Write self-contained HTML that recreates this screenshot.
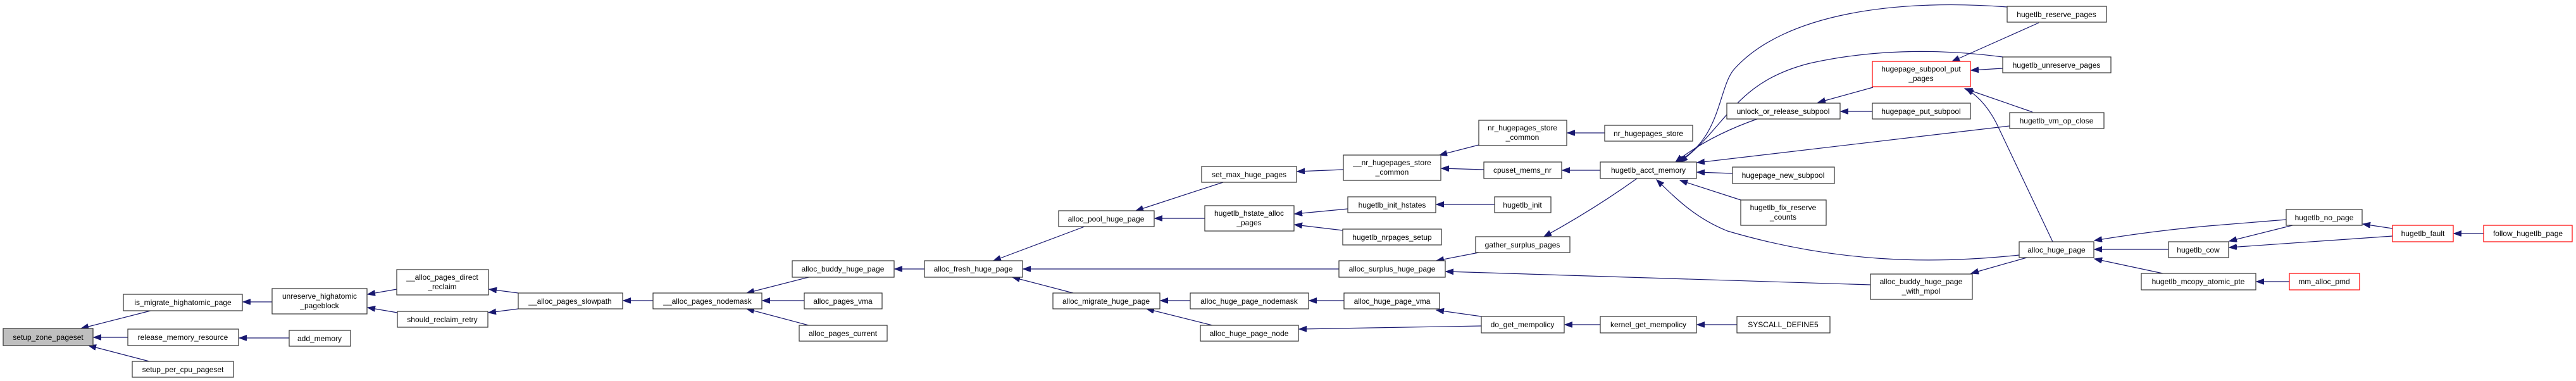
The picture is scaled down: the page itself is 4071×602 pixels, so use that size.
<!DOCTYPE html>
<html><head><meta charset="utf-8"><style>
html,body{margin:0;padding:0;background:#fff;}
svg{display:block;}
text{font-family:"Liberation Sans",Arial,sans-serif;font-size:12px;fill:#000;text-anchor:middle;}
.b{fill:#fff;stroke:#333;stroke-width:1.2;}
.r{fill:#fff;stroke:#f00;stroke-width:1.2;}
.g{fill:#bfbfbf;stroke:#333;stroke-width:1.2;}
.e{fill:none;stroke:#191970;stroke-width:1.2;marker-end:url(#a);}
</style></head><body>
<svg width="4071" height="602" viewBox="0 0 4071 602" xmlns="http://www.w3.org/2000/svg">
<defs><marker id="a" markerUnits="userSpaceOnUse" markerWidth="14" markerHeight="10" refX="12" refY="4.5" orient="auto"><path d="M0,0 L12,4.5 L0,9 z" fill="#191970" stroke="#191970"/></marker></defs>
<!-- edges -->
<path class="e" d="M238,491 L128,519"/>
<path class="e" d="M202,533 L148,533"/>
<path class="e" d="M236,571 L140,546"/>
<path class="e" d="M430,477 L384,477"/>
<path class="e" d="M457,534 L378,534"/>
<path class="e" d="M627,457 L581,465"/>
<path class="e" d="M628,494 L581,486"/>
<path class="e" d="M819,463 L773,457"/>
<path class="e" d="M819,488 L772,494"/>
<path class="e" d="M1032,475 L985,475"/>
<path class="e" d="M1278,438 L1180,463"/>
<path class="e" d="M1271,475 L1205,475"/>
<path class="e" d="M1278,514 L1180,488"/>
<path class="e" d="M1461,425 L1414,425"/>
<path class="e" d="M1714,358 L1570,412"/>
<path class="e" d="M2116,425 L1617,425"/>
<path class="e" d="M1696,463 L1600,438"/>
<path class="e" d="M1933,288 L1795,333"/>
<path class="e" d="M1904,345 L1825,345"/>
<path class="e" d="M1881,475 L1834,475"/>
<path class="e" d="M1916,514 L1812,488"/>
<path class="e" d="M2123,268 L2050,271"/>
<path class="e" d="M2130,330 L2046,338"/>
<path class="e" d="M2122,364 L2046,355"/>
<path class="e" d="M2337,229 L2275,245"/>
<path class="e" d="M2345,268 L2278,266"/>
<path class="e" d="M2362,323 L2270,323"/>
<path class="e" d="M2337,399 L2270,412"/>
<path class="e" d="M2956,450 L2285,429"/>
<path class="e" d="M2124,475 L2069,475"/>
<path class="e" d="M2341,500 L2270,490"/>
<path class="e" d="M2341,515 L2053,520"/>
<path class="e" d="M2536,210 L2477,210"/>
<path class="e" d="M2529,269 L2469,269"/>
<path class="e" d="M2587,282 Q2520,330 2440,374"/>
<path class="e" d="M2529,513 L2473,513"/>
<path class="e" d="M2745,513 L2682,513"/>
<path class="e" d="M3172,11 C3000,-2 2820,20 2740,110 C2715,140 2720,220 2650,256"/>
<path class="e" d="M3165,90 C3050,75 2950,80 2860,100 C2740,130 2730,200 2655,256"/>
<path class="e" d="M2777,188 Q2700,215 2648,256"/>
<path class="e" d="M3176,199 L2682,257"/>
<path class="e" d="M2738,274 L2682,272"/>
<path class="e" d="M2751,316 L2655,285"/>
<path class="e" d="M3191,403 C3050,418 2900,415 2730,365 C2680,345 2650,315 2618,284"/>
<path class="e" d="M2960,138 L2873,162"/>
<path class="e" d="M2959,176 L2909,176"/>
<path class="e" d="M3203,407 L3115,432"/>
<path class="e" d="M3222,36 L3085,97"/>
<path class="e" d="M3165,108 L3115,111"/>
<path class="e" d="M3212,177 L3105,140"/>
<path class="e" d="M3244,382 L3160,205 Q3140,160 3107,140"/>
<path class="e" d="M3613,347 L3490,357 Q3400,365 3310,380"/>
<path class="e" d="M3427,394 L3310,394"/>
<path class="e" d="M3418,432 L3310,409"/>
<path class="e" d="M3623,356 L3523,381"/>
<path class="e" d="M3781,373 L3523,391"/>
<path class="e" d="M3781,361 L3734,354"/>
<path class="e" d="M3925,369 L3878,369"/>
<path class="e" d="M3618,445 L3566,445"/>
<!-- nodes -->
<rect class="g" x="5" y="519" width="142" height="27"/><text x="76" y="537">setup_zone_pageset</text>
<rect class="b" x="195" y="465" width="188" height="26"/><text x="289" y="482">is_migrate_highatomic_page</text>
<rect class="b" x="202" y="520" width="175" height="26"/><text x="289" y="537">release_memory_resource</text>
<rect class="b" x="209" y="571" width="160" height="25"/><text x="289" y="588">setup_per_cpu_pageset</text>
<rect class="b" x="430" y="456" width="150" height="40"/><text x="505" y="472">unreserve_highatomic</text><text x="505" y="487">_pageblock</text>
<rect class="b" x="457" y="522" width="97" height="25"/><text x="505" y="539">add_memory</text>
<rect class="b" x="627" y="426" width="145" height="40"/><text x="699" y="442">__alloc_pages_direct</text><text x="699" y="457">_reclaim</text>
<rect class="b" x="628" y="492" width="143" height="25"/><text x="699" y="509">should_reclaim_retry</text>
<rect class="b" x="819" y="463" width="165" height="25"/><text x="901" y="480">__alloc_pages_slowpath</text>
<rect class="b" x="1032" y="463" width="172" height="25"/><text x="1118" y="480">__alloc_pages_nodemask</text>
<rect class="b" x="1252" y="412" width="161" height="26"/><text x="1332" y="429">alloc_buddy_huge_page</text>
<rect class="b" x="1271" y="463" width="123" height="25"/><text x="1332" y="480">alloc_pages_vma</text>
<rect class="b" x="1263" y="514" width="139" height="25"/><text x="1332" y="531">alloc_pages_current</text>
<rect class="b" x="1461" y="412" width="155" height="26"/><text x="1538" y="429">alloc_fresh_huge_page</text>
<rect class="b" x="1673" y="333" width="151" height="25"/><text x="1748" y="350">alloc_pool_huge_page</text>
<rect class="b" x="1664" y="463" width="169" height="25"/><text x="1748" y="480">alloc_migrate_huge_page</text>
<rect class="b" x="1899" y="263" width="150" height="25"/><text x="1974" y="280">set_max_huge_pages</text>
<rect class="b" x="1904" y="325" width="141" height="40"/><text x="1974" y="341">hugetlb_hstate_alloc</text><text x="1974" y="356">_pages</text>
<rect class="b" x="1881" y="463" width="187" height="25"/><text x="1974" y="480">alloc_huge_page_nodemask</text>
<rect class="b" x="1897" y="514" width="155" height="25"/><text x="1974" y="531">alloc_huge_page_node</text>
<rect class="b" x="2123" y="245" width="154" height="40"/><text x="2200" y="261">__nr_hugepages_store</text><text x="2200" y="276">_common</text>
<rect class="b" x="2130" y="311" width="139" height="25"/><text x="2200" y="328">hugetlb_init_hstates</text>
<rect class="b" x="2122" y="362" width="156" height="25"/><text x="2200" y="379">hugetlb_nrpages_setup</text>
<rect class="b" x="2116" y="412" width="168" height="26"/><text x="2200" y="429">alloc_surplus_huge_page</text>
<rect class="b" x="2124" y="463" width="151" height="25"/><text x="2200" y="480">alloc_huge_page_vma</text>
<rect class="b" x="2337" y="190" width="139" height="40"/><text x="2406" y="206">nr_hugepages_store</text><text x="2406" y="221">_common</text>
<rect class="b" x="2345" y="256" width="123" height="26"/><text x="2406" y="273">cpuset_mems_nr</text>
<rect class="b" x="2362" y="311" width="89" height="25"/><text x="2406" y="328">hugetlb_init</text>
<rect class="b" x="2332" y="374" width="149" height="25"/><text x="2406" y="391">gather_surplus_pages</text>
<rect class="b" x="2341" y="500" width="131" height="26"/><text x="2406" y="517">do_get_mempolicy</text>
<rect class="b" x="2536" y="198" width="139" height="25"/><text x="2605" y="215">nr_hugepages_store</text>
<rect class="b" x="2529" y="256" width="152" height="26"/><text x="2605" y="273">hugetlb_acct_memory</text>
<rect class="b" x="2529" y="500" width="152" height="26"/><text x="2605" y="517">kernel_get_mempolicy</text>
<rect class="b" x="2729" y="163" width="179" height="25"/><text x="2818" y="180">unlock_or_release_subpool</text>
<rect class="b" x="2738" y="264" width="161" height="26"/><text x="2818" y="281">hugepage_new_subpool</text>
<rect class="b" x="2751" y="316" width="135" height="40"/><text x="2818" y="332">hugetlb_fix_reserve</text><text x="2818" y="347">_counts</text>
<rect class="b" x="2745" y="500" width="147" height="26"/><text x="2818" y="517">SYSCALL_DEFINE5</text>
<rect class="r" x="2959" y="97" width="155" height="40"/><text x="3036" y="113">hugepage_subpool_put</text><text x="3036" y="128">_pages</text>
<rect class="b" x="2959" y="163" width="155" height="25"/><text x="3036" y="180">hugepage_put_subpool</text>
<rect class="b" x="2956" y="433" width="161" height="40"/><text x="3036" y="449">alloc_buddy_huge_page</text><text x="3036" y="464">_with_mpol</text>
<rect class="b" x="3172" y="10" width="157" height="25"/><text x="3250" y="27">hugetlb_reserve_pages</text>
<rect class="b" x="3165" y="90" width="171" height="25"/><text x="3250" y="107">hugetlb_unreserve_pages</text>
<rect class="b" x="3176" y="178" width="149" height="25"/><text x="3250" y="195">hugetlb_vm_op_close</text>
<rect class="b" x="3191" y="382" width="118" height="25"/><text x="3250" y="399">alloc_huge_page</text>
<rect class="b" x="3427" y="382" width="95" height="25"/><text x="3474" y="399">hugetlb_cow</text>
<rect class="b" x="3384" y="432" width="181" height="26"/><text x="3474" y="449">hugetlb_mcopy_atomic_pte</text>
<rect class="b" x="3613" y="331" width="120" height="25"/><text x="3673" y="348">hugetlb_no_page</text>
<rect class="r" x="3618" y="432" width="111" height="26"/><text x="3673" y="449">mm_alloc_pmd</text>
<rect class="r" x="3781" y="356" width="96" height="26"/><text x="3829" y="373">hugetlb_fault</text>
<rect class="r" x="3925" y="356" width="140" height="26"/><text x="3995" y="373">follow_hugetlb_page</text>
</svg>
</body></html>
